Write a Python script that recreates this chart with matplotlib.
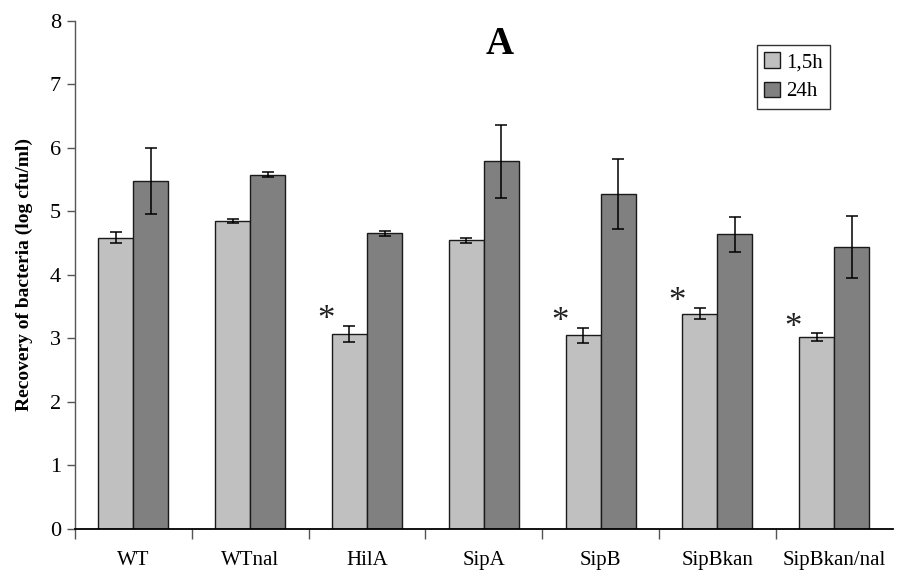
import matplotlib
matplotlib.use("Agg")
import matplotlib.pyplot as plt
import numpy as np

categories = ["WT", "WTnal", "HilA", "SipA", "SipB", "SipBkan", "SipBkan/nal"]
early = [4.59, 4.85, 3.07, 4.55, 3.05, 3.39, 3.02]
early_err = [0.08, 0.03, 0.13, 0.04, 0.12, 0.09, 0.06]
late = [5.48, 5.58, 4.66, 5.79, 5.27, 4.64, 4.44]
late_err = [0.52, 0.04, 0.04, 0.57, 0.55, 0.28, 0.49]
significant = [False, False, True, False, True, True, True]
series_labels = ["1,5h", "24h"]

plt.rcParams["font.family"] = ["Liberation Serif", "DejaVu Serif"]

fig = plt.figure(figsize=(9.08, 5.75), dpi=100)
ax = fig.add_axes([0.0826, 0.08, 0.9004, 0.8835])

x = np.arange(len(categories))
w = 0.30
ekw = dict(ecolor="black", elinewidth=1.1, capsize=4, capthick=1.1)
ax.bar(x - w / 2, early, w, color="#c0c0c0", edgecolor="#1a1a1a",
       linewidth=1.0, label=series_labels[0])
ax.bar(x + w / 2, late, w, color="#808080", edgecolor="#1a1a1a",
       linewidth=1.0, label=series_labels[1])
ax.errorbar(x - w / 2, early, yerr=early_err, fmt="none", **ekw)
ax.errorbar(x + w / 2, late, yerr=late_err, fmt="none", **ekw)

# significance markers to the upper left of the 1,5h bars
for xi, v, e, s in zip(x, early, early_err, significant):
    if s:
        ax.text(xi - w - 0.05, v + e + 0.08, "*", ha="center", va="center",
                fontsize=25, color="#222222")

ax.set_xlim(-0.5, len(categories) - 0.5)
ax.set_ylim(0, 8)
ax.set_yticks(range(0, 9))
ax.tick_params(axis="y", labelsize=16, direction="out", length=6, width=1,
               color="#555555", pad=4)
ax.set_xticks(x)
ax.set_xticklabels(categories, fontsize=15)
ax.tick_params(axis="x", length=0, pad=16)
ax.set_xticks(np.arange(-0.5, len(categories) - 0.5, 1.0), minor=True)
ax.tick_params(axis="x", which="minor", length=7, width=1, color="#555555",
               direction="out")

for side in ("top", "right"):
    ax.spines[side].set_visible(False)
ax.spines["left"].set_color("#555555")
ax.spines["left"].set_linewidth(1.0)
ax.spines["bottom"].set_color("black")
ax.spines["bottom"].set_linewidth(1.3)

ax.set_ylabel("Recovery of bacteria (log cfu/ml)", fontsize=14,
              fontweight="bold", labelpad=12)
ax.text(0.5505, 1 - 45 / 575, "A", transform=fig.transFigure, ha="center",
        va="center", fontsize=28, fontweight="bold")

leg = ax.legend(loc="upper left", bbox_to_anchor=(757 / 908, 1 - 45 / 575),
                bbox_transform=fig.transFigure, fontsize=15, frameon=True,
                fancybox=False, edgecolor="black", handlelength=0.75,
                handleheight=0.75, handletextpad=0.3, borderpad=0.35,
                labelspacing=0.45, borderaxespad=0)
leg.get_frame().set_linewidth(1.0)

fig.savefig("out.png", dpi=100)
